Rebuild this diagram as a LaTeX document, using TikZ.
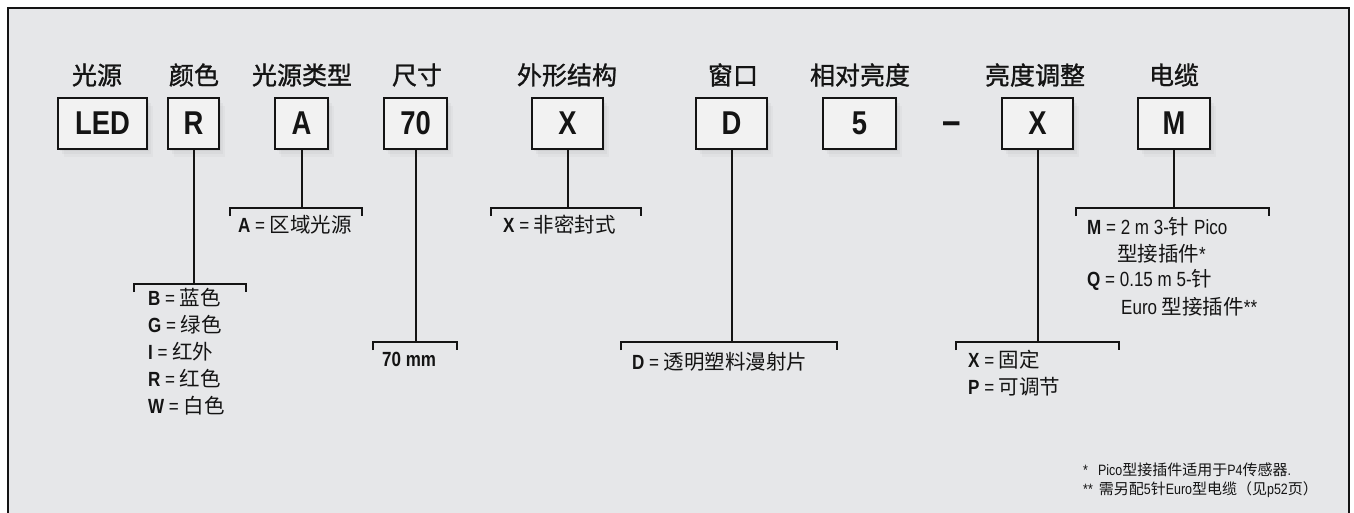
\documentclass[tikz,border=0pt]{standalone}
\usepackage{fontspec}
\setmainfont{Liberation Sans}[FakeStretch=0.83]
\newfontfamily\zhfont{Noto Sans CJK SC}
\newfontfamily\zhhead{Noto Sans CJK SC}[FakeBold=1.2]
\usetikzlibrary{shadows}
\definecolor{panelgray}{RGB}{230,231,233}
\definecolor{boxgray}{RGB}{242,242,242}
\definecolor{inkblack}{RGB}{20,20,20}
\newcommand{\zh}[1]{{\zhfont #1}}

\begin{document}
\begin{tikzpicture}[x=1pt,y=-1pt,
  codebox/.style={draw=inkblack,line width=2.2pt,fill=boxgray,minimum height=51pt,
    inner sep=0pt,font=\bfseries\fontsize{33}{33}\selectfont,text=inkblack,
    drop shadow={opacity=0.10,shadow xshift=2pt,shadow yshift=-2pt},
    drop shadow={opacity=0.07,shadow xshift=4pt,shadow yshift=-5pt},
    drop shadow={opacity=0.05,shadow xshift=6pt,shadow yshift=-8pt}},
  head/.style={font=\zhhead\fontsize{25}{25}\selectfont,text=inkblack,inner sep=0pt},
  key/.style={anchor=west,font=\fontsize{20.5}{20.5}\selectfont,text=inkblack,inner sep=0pt},
  note/.style={anchor=west,font=\fontsize{15}{15}\selectfont,text=inkblack,inner sep=0pt},
  stem/.style={draw=inkblack,line width=2pt},
  brk/.style={draw=inkblack,line width=2.4pt}]
  \useasboundingbox (0,0) rectangle (1354,513);
  % panel
  \fill[panelgray] (8,8) rectangle (1349,513);
  \draw[inkblack,line width=2.4pt] (8,513) -- (8,8) -- (1349,8) -- (1349,513);
  % headings
  \node[head] (hsrc) at (97,75) {光源};
  \node[head] (hcol) at (194,75) {颜色};
  \node[head] (htyp) at (302,75) {光源类型};
  \node[head] (hsiz) at (417,75) {尺寸};
  \node[head] (hhou) at (567,75) {外形结构};
  \node[head] (hwin) at (733,75) {窗口};
  \node[head] (hbri) at (860,75) {相对亮度};
  \node[head] (hadj) at (1035,75) {亮度调整};
  \node[head] (hcab) at (1174,75) {电缆};
  % code boxes
  \node[codebox,minimum width=89pt] (led) at (102.5,123.5) {LED};
  \node[codebox,minimum width=51pt] (col) at (193.5,123.5) {R};
  \node[codebox,minimum width=53pt] (typ) at (301.5,123.5) {A};
  \node[codebox,minimum width=63pt] (siz) at (415.5,123.5) {70};
  \node[codebox,minimum width=71pt] (hou) at (567.5,123.5) {X};
  \node[codebox,minimum width=71pt] (win) at (731.5,123.5) {D};
  \node[codebox,minimum width=73pt] (bri) at (859.5,123.5) {5};
  \node[font=\bfseries\fontsize{40}{40}\selectfont,text=inkblack,inner sep=0pt] (dash) at (951.5,128) {--};
  \node[codebox,minimum width=71pt] (adj) at (1037.5,123.5) {X};
  \node[codebox,minimum width=72pt] (cab) at (1174,123.5) {M};
  % bracket ends
  \coordinate (colL) at (134,284);   \coordinate (colR) at (246,284);
  \coordinate (typL) at (230,208);   \coordinate (typR) at (362,208);
  \coordinate (sizL) at (373,342);   \coordinate (sizR) at (457,342);
  \coordinate (houL) at (491,208);   \coordinate (houR) at (641,208);
  \coordinate (winL) at (621,342);   \coordinate (winR) at (837,342);
  \coordinate (adjL) at (956,342);   \coordinate (adjR) at (1119,342);
  \coordinate (cabL) at (1076,208);  \coordinate (cabR) at (1269,208);
  % stems and brackets
  \foreach \b in {col,typ,siz,hou,win,adj,cab}{
    \draw[stem] (\b.south) -- (\b.south |- \b L);
    \draw[brk] ([yshift=-8pt]\b L) -- (\b L) -- (\b R) -- ([yshift=-8pt]\b R);
  }
  % option keys
  \foreach \k/\t [count=\i] in {B/蓝色,G/绿色,I/红外,R/红色,W/白色}
    \node[key] (colk\i) at (148,{271+27*\i}) {{\bfseries\k} = \zh{\t}};
  \node[key] (typk) at (238,225) {{\bfseries A} = \zh{区域光源}};
  \node[key] (sizk) at (382,359) {\bfseries 70 mm};
  \node[key] (houk) at (503,225) {{\bfseries X} = \zh{非密封式}};
  \node[key] (wink) at (632,362) {{\bfseries D} = \zh{透明塑料漫射片}};
  \node[key] (adjk1) at (968,360) {{\bfseries X} = \zh{固定}};
  \node[key] (adjk2) at (968,387) {{\bfseries P} = \zh{可调节}};
  \node[key] (cabk1) at (1087,227) {{\bfseries M} = 2 m 3-\zh{针} Pico};
  \node[key] (cabk2) at (1117,254) {\zh{型接插件}*};
  \node[key] (cabk3) at (1087,280) {{\bfseries Q} = 0.15 m 5-\zh{针}};
  \node[key] (cabk4) at (1121,307) {Euro \zh{型接插件}**};
  % footnotes
  \node[note] (fn1) at (1083,470) {*\hspace{10pt}Pico\zh{型接插件适用于}P4\zh{传感器}.};
  \node[note] (fn2) at (1083,490) {**\hspace{6pt}\zh{需另配}5\zh{针}Euro\zh{型电缆（见}p52\zh{页）}};
\end{tikzpicture}
\end{document}
